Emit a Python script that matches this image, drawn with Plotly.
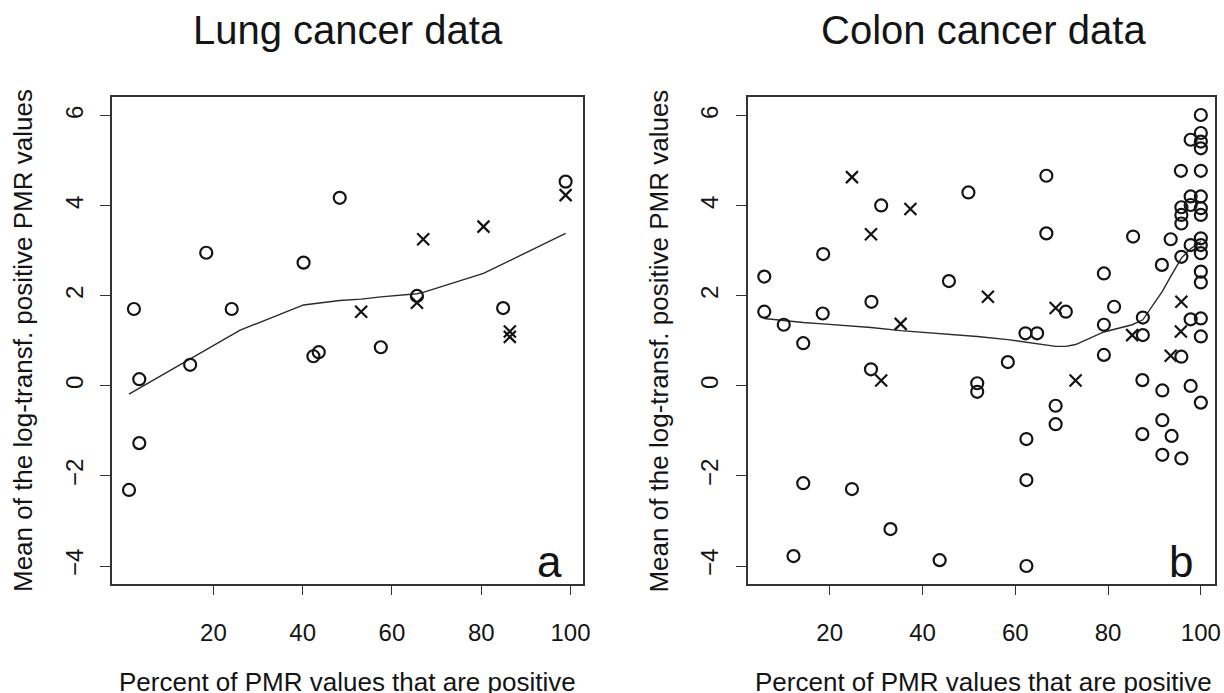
import plotly.graph_objects as go

# ---------------- Data ----------------
# Lung cancer (panel a)
lung_o_x = [1.1, 2.2, 3.4, 3.4, 14.8, 18.4, 24.1, 40.2, 48.3, 42.4, 43.6, 57.5, 65.6, 84.9, 98.9]
lung_o_y = [-2.31, 1.71, 0.15, -1.27, 0.47, 2.96, 1.71, 2.74, 4.18, 0.66, 0.75, 0.86, 2.0, 1.73, 4.54]
lung_x_x = [53.1, 65.6, 67.0, 80.5, 86.4, 86.4, 98.9]
lung_x_y = [1.65, 1.85, 3.26, 3.54, 1.21, 1.09, 4.24]
lung_fit_x = [1.1, 3.4, 14.8, 18.4, 24.1, 26.0, 40.2, 48.3, 53.1, 57.5, 65.6, 67.0, 80.5, 86.4, 98.9]
lung_fit_y = [-0.18, -0.05, 0.60, 0.80, 1.12, 1.24, 1.80, 1.90, 1.93, 1.98, 2.05, 2.08, 2.50, 2.78, 3.39]

# Colon cancer (panel b)
colon_o_x = [5.9, 5.9, 10.1, 14.3, 14.3, 12.2, 18.6, 18.5, 24.8, 29.0, 28.9, 31.1, 33.1, 43.7,
             45.7, 49.9, 51.8, 51.8, 58.4, 62.2, 64.7, 62.4, 62.4, 62.4, 66.7, 66.7, 68.7, 68.7,
             70.9, 79.1, 79.1, 79.1, 81.3, 85.4, 87.5, 87.5, 87.4, 87.4, 91.6, 91.7, 91.7, 91.7,
             93.5, 93.7, 95.7, 95.8, 95.8, 95.8, 95.8, 95.8, 95.8, 97.8, 97.8, 97.8, 97.8, 97.8,
             97.8, 100, 100, 100, 100, 100, 100, 100, 100, 100, 100, 100, 100, 100, 100, 100, 100]
colon_o_y = [2.43, 1.65, 1.36, 0.95, -2.16, -3.78, 2.93, 1.61, -2.29, 1.87, 0.37, 4.01, -3.18, -3.87,
             2.33, 4.30, 0.06, -0.13, 0.53, 1.17, 1.17, -1.18, -2.09, -4.0, 4.67, 3.39, -0.44, -0.85,
             1.65, 2.50, 1.36, 0.69, 1.76, 3.32, 1.52, 1.13, 0.13, -1.07, 2.69, -0.10, -0.76, -1.53,
             3.26, -1.11, 4.78, 3.97, 3.80, 3.61, 2.87, 0.65, -1.61, 5.47, 4.21, 4.02, 3.13, 1.48,
             0.0, 6.02, 5.62, 5.43, 5.28, 4.78, 4.21, 3.95, 3.80, 3.28, 3.13, 2.95, 2.54, 2.30, 1.50,
             1.10, -0.37]
colon_x_x = [24.8, 37.4, 28.9, 35.3, 31.1, 54.1, 68.7, 73.0, 85.2, 93.5, 95.7, 95.8]
colon_x_y = [4.64, 3.93, 3.37, 1.38, 0.12, 1.98, 1.73, 0.12, 1.13, 0.67, 1.21, 1.87]
colon_fit_x = [5.9, 10.1, 14.3, 18.5, 24.8, 28.9, 35.3, 45.7, 51.8, 58.4, 62.4, 66.7, 68.7,
               70.9, 73.0, 79.1, 85.2, 87.5, 91.7, 93.6, 95.8, 97.8, 100]
colon_fit_y = [1.50, 1.45, 1.41, 1.38, 1.33, 1.30, 1.23, 1.15, 1.10, 1.03, 0.97, 0.91, 0.88,
               0.88, 0.92, 1.20, 1.36, 1.47, 2.10, 2.45, 2.84, 3.05, 3.21]

titles = ["Lung cancer data", "Colon cancer data"]
panel_letters = ["a", "b"]
y_title = "Mean of the log-transf. positive PMR values"
x_title = "Percent of PMR values that are positive"
x_ticks = [20, 40, 60, 80, 100]
y_ticks = [-4, -2, 0, 2, 4, 6]

# ---------------- Figure ----------------
SX = 1216 / 1224             # observed horizontal scale of the captured page
W, H = 1224, 693
FONT = "Liberation Sans, Arial, sans-serif"
INK = "#141414"


def px_x(p):
    """reference-image x pixel -> paper coordinate"""
    return (p / SX) / W


def px_y(p):
    """reference-image y pixel -> paper coordinate"""
    return 1 - p / H


fig = go.Figure()

circle_style = dict(symbol="circle-open", size=12, color=INK, line=dict(width=2.2, color=INK))
x_style = dict(symbol="x-thin-open", size=12, color=INK, line=dict(width=2.2, color=INK))
line_style = dict(color="#2a2a2a", width=1.4)

# panel a
fig.add_trace(go.Scatter(x=lung_fit_x, y=lung_fit_y, mode="lines", line=line_style,
                         xaxis="x", yaxis="y", showlegend=False, hoverinfo="skip"))
fig.add_trace(go.Scatter(x=lung_o_x, y=lung_o_y, mode="markers", marker=circle_style,
                         xaxis="x", yaxis="y", showlegend=False))
fig.add_trace(go.Scatter(x=lung_x_x, y=lung_x_y, mode="markers", marker=x_style,
                         xaxis="x", yaxis="y", showlegend=False))
# panel b
fig.add_trace(go.Scatter(x=colon_fit_x, y=colon_fit_y, mode="lines", line=line_style,
                         xaxis="x2", yaxis="y2", showlegend=False, hoverinfo="skip"))
fig.add_trace(go.Scatter(x=colon_o_x, y=colon_o_y, mode="markers", marker=circle_style,
                         xaxis="x2", yaxis="y2", showlegend=False))
fig.add_trace(go.Scatter(x=colon_x_x, y=colon_x_y, mode="markers", marker=x_style,
                         xaxis="x2", yaxis="y2", showlegend=False))

# pixel geometry of the two plot boxes (reference image pixels)
boxes = [(112, 583), (747, 1214)]
x_ranges = [[-2.69, 102.9], [2.31, 103.05]]
top_px, bot_px = 97, 584
ydom = [px_y(bot_px), px_y(top_px)]

common_x = dict(showgrid=False, zeroline=False, showline=True, mirror=True, linecolor="#333",
                linewidth=1.5, ticks="outside", ticklen=9, tickwidth=1.2, tickcolor="#333",
                tickvals=x_ticks, tickfont=dict(family=FONT, size=24, color=INK),
                ticklabelstandoff=17)
common_y = dict(showgrid=False, zeroline=False, showline=True, mirror=True, linecolor="#333",
                linewidth=1.5, ticks="outside", ticklen=10, tickwidth=1.2, tickcolor="#333",
                tickvals=y_ticks, tickangle=-90, tickfont=dict(family=FONT, size=24, color=INK),
                ticklabelstandoff=8, range=[-4.4, 6.42])

fig.update_layout(
    width=W, height=H,
    margin=dict(l=0, r=0, t=0, b=0),
    paper_bgcolor="white", plot_bgcolor="white",
    xaxis=dict(domain=[px_x(boxes[0][0]), px_x(boxes[0][1])], range=x_ranges[0], anchor="y", **common_x),
    yaxis=dict(domain=ydom, anchor="x", **common_y),
    xaxis2=dict(domain=[px_x(boxes[1][0]), px_x(boxes[1][1])], range=x_ranges[1], anchor="y2", **common_x),
    yaxis2=dict(domain=ydom, anchor="x2", **common_y),
)

ann = []
ytitle_px = [23, 658]
title_cx = [347.5, 982.5]
letter_cx = [549, 1180]
for i in range(2):
    cx = px_x(title_cx[i])
    ann.append(dict(text=titles[i], x=cx, y=px_y(30), xref="paper", yref="paper",
                    xanchor="center", yanchor="middle", showarrow=False,
                    font=dict(family=FONT, size=40, color=INK)))
    ann.append(dict(text=x_title, x=cx, y=px_y(682), xref="paper", yref="paper",
                    xanchor="center", yanchor="middle", showarrow=False,
                    font=dict(family=FONT, size=26, color=INK)))
    ann.append(dict(text=y_title, x=px_x(ytitle_px[i]), y=px_y(341), xref="paper", yref="paper",
                    xanchor="center", yanchor="middle", textangle=-90, showarrow=False,
                    font=dict(family=FONT, size=26, color=INK)))
    ann.append(dict(text=panel_letters[i], x=px_x(letter_cx[i]), y=px_y(561),
                    xref="paper", yref="paper", xanchor="center", yanchor="middle",
                    showarrow=False, font=dict(family=FONT, size=44, color=INK)))
fig.update_layout(annotations=ann)

# remove the browser's default page margin so the figure fills the window exactly
fig.write_html("out.html", config={"displayModeBar": False},
               post_script="document.body.style.margin='0';document.body.style.overflow='hidden';")
